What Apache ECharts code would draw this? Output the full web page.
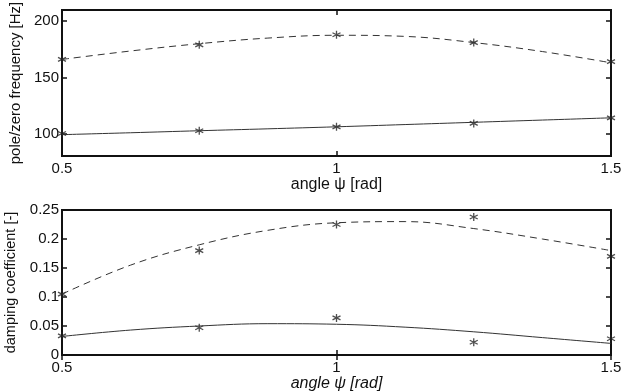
<!DOCTYPE html>
<html>
<head>
<meta charset="utf-8">
<script src="https://cdn.jsdelivr.net/npm/echarts@6/dist/echarts.min.js"></script>
<style>
  html, body { margin: 0; padding: 0; background: #fff; }
  #chart { width: 625px; height: 391px; }
</style>
</head>
<body>
<div id="chart"></div>
<script>
// Measured angles (rad)
const angles = [0.5, 0.75, 1.0, 1.25, 1.5];

// Pole / zero frequencies [Hz] at each angle
const poleFreq = [166, 179, 188, 181, 164];
const zeroFreq = [100, 102.5, 106, 109, 114];

// Damping coefficients [-] at each angle
const poleDamp = [0.105, 0.18, 0.225, 0.238, 0.17];
const zeroDamp = [0.033, 0.047, 0.064, 0.022, 0.028];

// Fitted trend curves, sampled along the angle axis
const fitAngles = [0.5, 0.625, 0.75, 0.875, 1.0, 1.125, 1.25, 1.375, 1.5];
const poleFreqFit = [166, 173.5, 180, 185, 187.5, 186.5, 181, 173, 163];
const zeroFreqFit = [99, 100.7, 102.5, 104.2, 106, 108, 110, 112, 114];
const poleDampFit = [0.105, 0.155, 0.19, 0.215, 0.228, 0.23, 0.218, 0.2, 0.18];
const zeroDampFit = [0.032, 0.043, 0.05, 0.054, 0.053, 0.048, 0.04, 0.03, 0.02];

// Tick values
const xTicks = [0.5, 1, 1.5];
const freqTicks = [100, 150, 200];
const dampTicks = [0, 0.05, 0.1, 0.15, 0.2, 0.25];

const pairs = (xs, ys) => xs.map((x, i) => [x, ys[i]]);

const FONT = 'Liberation Sans, Arial, sans-serif';
const INK = '#111';
const asterisk = 'path://M0,-5L0,5M-4.33,-2.5L4.33,2.5M-4.33,2.5L4.33,-2.5';

function xAxisPair(gridIndex, nameGap, nameStyle) {
  return [
    {
      type: 'value', gridIndex, min: 0.5, max: 1.5, interval: 0.5,
      position: 'bottom',
      name: 'angle ψ [rad]', nameLocation: 'middle', nameGap,
      nameTextStyle: Object.assign({ fontFamily: FONT, fontSize: 16, color: INK }, nameStyle),
      axisLine: { show: true, lineStyle: { color: INK, width: 2 } },
      axisTick: { show: true, inside: true, length: 5, customValues: xTicks,
        lineStyle: { color: INK, width: 1.5 } },
      axisLabel: { fontFamily: FONT, fontSize: 15, color: INK, margin: 5,
        customValues: xTicks, formatter: v => String(v) },
      splitLine: { show: false }
    },
    {
      type: 'value', gridIndex, min: 0.5, max: 1.5, interval: 0.5,
      position: 'top',
      axisLine: { show: true, lineStyle: { color: INK, width: 2 } },
      axisTick: { show: true, inside: true, length: 5, customValues: xTicks,
        lineStyle: { color: INK, width: 1.5 } },
      axisLabel: { show: false },
      splitLine: { show: false }
    }
  ];
}

function yAxisPair(gridIndex, min, max, ticks, name, nameSize, fmt) {
  const common = {
    type: 'value', gridIndex, min, max,
    splitLine: { show: false }
  };
  return [
    Object.assign({}, common, {
      position: 'left',
      name, nameLocation: 'middle', nameGap: 33,
      nameTextStyle: { fontFamily: FONT, fontSize: nameSize, color: INK },
      axisLine: { show: true, lineStyle: { color: INK, width: 2 } },
      axisTick: { show: true, inside: true, length: 5, customValues: ticks,
        lineStyle: { color: INK, width: 1.5 } },
      axisLabel: { fontFamily: FONT, fontSize: 15, color: INK, margin: 3,
        customValues: ticks, formatter: fmt }
    }),
    Object.assign({}, common, {
      position: 'right',
      axisLine: { show: true, lineStyle: { color: INK, width: 2 } },
      axisTick: { show: true, inside: true, length: 5, customValues: ticks,
        lineStyle: { color: INK, width: 1.5 } },
      axisLabel: { show: false }
    })
  ];
}

function fitLine(xi, yi, data, type) {
  return {
    type: 'line', xAxisIndex: xi, yAxisIndex: yi, data, smooth: 0.4,
    symbol: 'none', silent: true,
    lineStyle: { color: '#333', width: 1, type }
  };
}

function stars(xi, yi, data) {
  return {
    type: 'scatter', xAxisIndex: xi, yAxisIndex: yi, data,
    symbol: asterisk, symbolSize: 8, silent: true,
    itemStyle: { color: 'rgba(0,0,0,0)', borderColor: '#222', borderWidth: 1.3 }
  };
}

const chart = echarts.init(document.getElementById('chart'), null, { renderer: 'canvas' });

const frame = {
  show: true, borderColor: INK, borderWidth: 2, backgroundColor: 'transparent',
  containLabel: false, outerBoundsMode: 'none'
};

chart.setOption({
  backgroundColor: '#fff',
  animation: false,
  grid: [
    Object.assign({ left: 62, right: 14, top: 10, height: 146 }, frame),
    Object.assign({ left: 62, right: 14, top: 210, height: 145 }, frame)
  ],
  xAxis: [
    ...xAxisPair(0, 20, {}),
    ...xAxisPair(1, 19, { fontStyle: 'italic' })
  ],
  yAxis: [
    ...yAxisPair(0, 80, 210, freqTicks, 'pole/zero frequency [Hz]', 15, v => String(v)),
    ...yAxisPair(1, 0, 0.25, dampTicks, 'damping coefficient [-]', 14.5, v => String(v))
  ],
  series: [
    fitLine(0, 0, pairs(fitAngles, poleFreqFit), [7, 5]),
    fitLine(0, 0, pairs(fitAngles, zeroFreqFit), 'solid'),
    stars(0, 0, pairs(angles, poleFreq)),
    stars(0, 0, pairs(angles, zeroFreq)),
    fitLine(2, 2, pairs(fitAngles, poleDampFit), [7, 5]),
    fitLine(2, 2, pairs(fitAngles, zeroDampFit), 'solid'),
    stars(2, 2, pairs(angles, poleDamp)),
    stars(2, 2, pairs(angles, zeroDamp))
  ]
});
</script>
</body>
</html>
